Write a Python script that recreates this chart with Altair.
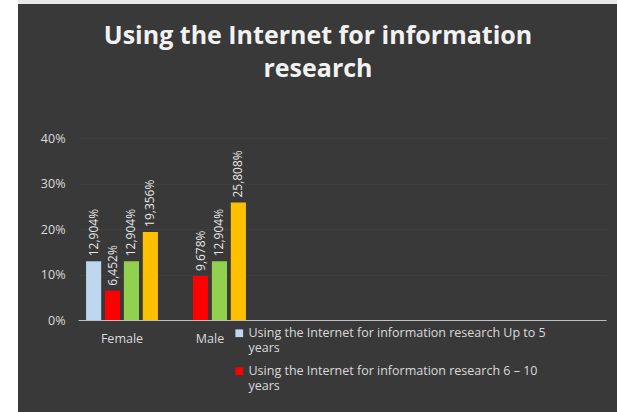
import altair as alt
import pandas as pd

genders = ["Female", "Male"]
series = [
    "Using the Internet for information research Up to 5 years",
    "Using the Internet for information research 6 – 10 years",
    "Using the Internet for information research 11 – 15 years",
    "Using the Internet for information research More than 15 years",
]
female_values = [0.12904, 0.06452, 0.12904, 0.19356]
male_values = [None, 0.09678, 0.12904, 0.25808]
colors = ["#bdd7ee", "#ff0000", "#92d050", "#ffc000"]
x_domain = ["Female", "Male", " ", "  ", "   ", "    "]
y_ticks = [0, 0.1, 0.2, 0.3, 0.4]
title_lines = ["Using the Internet for information", "research"]

rows = []
for g, vals in zip(genders, [female_values, male_values]):
    for s, v in zip(series, vals):
        if v is not None:
            rows.append({"gender": g, "series": s, "value": v})
df = pd.DataFrame(rows)

FONT = "Open Sans"
LBL = "#d9d9d9"

legend_expr = (
    "datum.label == '" + series[0] + "' ? ['Using the Internet for information research Up to 5', 'years'] : "
    "datum.label == '" + series[1] + "' ? ['Using the Internet for information research 6 – 10', 'years'] : datum.label"
)

x_enc = alt.X(
    "gender:N",
    scale=alt.Scale(domain=x_domain, paddingInner=0.14, paddingOuter=0.07),
    axis=alt.Axis(
        title=None, labelAngle=0, ticks=False, domainColor="#bfbfbf",
        labelColor=LBL, labelFont=FONT, labelFontSize=12.5, labelPadding=12,
        labelExpr="datum.value == 'Female' || datum.value == 'Male' ? datum.value : ''",
    ),
)
xoff_enc = alt.XOffset(
    "series:N", scale=alt.Scale(domain=series, paddingInner=0.2, paddingOuter=0.1)
)
y_enc = alt.Y(
    "value:Q",
    scale=alt.Scale(domain=[0, 0.4]),
    axis=alt.Axis(
        title=None, format=".0%", values=y_ticks, domain=False, ticks=False,
        gridColor="#3f3f3f", labelColor=LBL, labelFont=FONT, labelFontSize=12.5,
        labelPadding=13,
    ),
)

base = alt.Chart(df)
bars = base.mark_bar().encode(
    x=x_enc,
    xOffset=xoff_enc,
    y=y_enc,
    color=alt.Color(
        "series:N",
        scale=alt.Scale(domain=series, range=colors),
        legend=alt.Legend(
            title=None, orient="none", legendX=155, legendY=189,
            values=series[:2], labelExpr=legend_expr, labelLimit=0,
            symbolType="square", symbolSize=60, symbolStrokeWidth=0,
            labelColor=LBL, labelFont=FONT, labelFontSize=12.5,
            rowPadding=10, labelOffset=3,
        ),
    ),
)
labels = base.transform_calculate(
    txt="replace(format(datum.value, '.3%'), '.', ',')"
).mark_text(
    angle=270, align="left", baseline="middle", dx=5,
    color="#e6e6e6", font=FONT, fontSize=12,
).encode(x=x_enc, xOffset=xoff_enc, y=y_enc, text="txt:N")

strip = alt.Chart(alt.Data(values=[{}])).mark_rect(color="#ffffff").encode(
    x=alt.value(-78), x2=alt.value(-60), y=alt.value(-138), y2=alt.value(274)
)
topstrip = alt.Chart(alt.Data(values=[{}])).mark_rect(color="#e8e8e8").encode(
    x=alt.value(-60), x2=alt.value(539), y=alt.value(-138), y2=alt.value(-134)
)

chart = alt.layer(strip, topstrip, bars, labels).properties(
    width=528,
    height=182,
    autosize=alt.AutoSizeParams(type="none"),
    padding={"left": 78, "top": 138, "right": 11, "bottom": 92},
    background="#393939",
    title=alt.TitleParams(
        title_lines, font=FONT, fontSize=25, fontWeight="bold", color="#f2f2f2",
        lineHeight=33, anchor="middle", dx=-24, offset=-82, frame="group",
    ),
).configure_view(stroke=None)

chart.save("out.html", embed_options={"renderer": "svg", "actions": False})
